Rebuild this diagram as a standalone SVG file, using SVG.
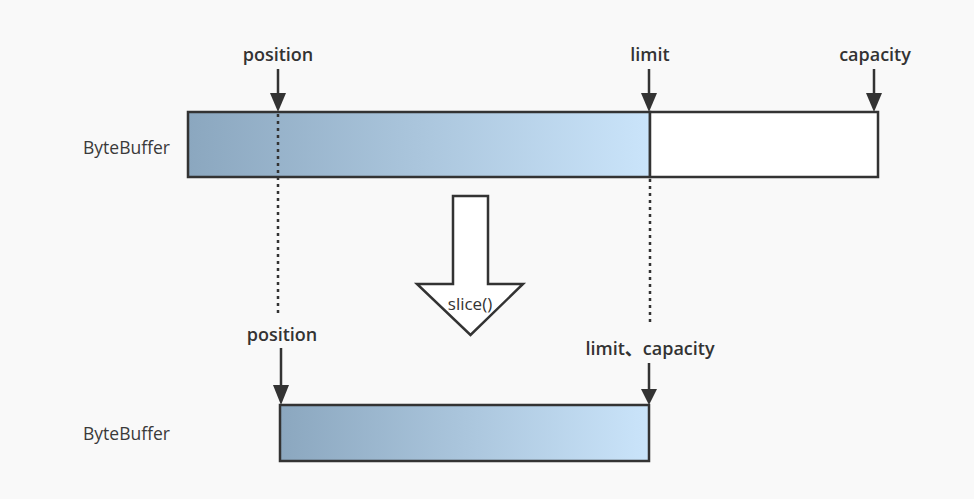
<svg xmlns="http://www.w3.org/2000/svg" width="974" height="499" viewBox="0 0 974 499">
<defs>
<linearGradient id="g" x1="0" y1="0" x2="1" y2="0">
<stop offset="0" stop-color="#8ba7bf"/>
<stop offset="1" stop-color="#cae4fa"/>
</linearGradient>
<style>
text{font-family:"Open Sans","Noto Sans CJK SC",sans-serif;fill:#333}
.lbl{font-size:18px;text-anchor:middle;font-weight:600;fill:#333}
.bb{font-size:17.5px;fill:#3a3a3a}
.box{stroke:#333;stroke-width:2.5}
.ptr{stroke:#333;stroke-width:2.5;fill:none}
.dot{stroke:#333;stroke-width:2.5;stroke-dasharray:3,4;fill:none}
</style>
</defs>
<rect width="974" height="499" fill="#f9f9f9"/>
<g id="buffer1">
<rect class="box" x="188" y="112" width="462" height="65" fill="url(#g)"/>
<rect class="box" x="650" y="112" width="228" height="65" fill="#fff"/>
<text class="bb" x="83" y="154">ByteBuffer</text>
</g>
<g id="buffer2">
<rect class="box" x="280" y="405" width="369" height="56" fill="url(#g)"/>
<text class="bb" x="83" y="440">ByteBuffer</text>
</g>
<g id="slice">
<path d="M453,196 L488,196 L488,284 L523,284 L470.5,335 L417,284 L453,284 Z" fill="#fff" stroke="#333" stroke-width="2.5"/>
<text x="470" y="310" style="font-size:17px;text-anchor:middle">slice()</text>
</g>
<g id="labels">
<text class="lbl" x="278" y="61">position</text>
<text class="lbl" x="650" y="61">limit</text>
<text class="lbl" x="875" y="61">capacity</text>
<text class="lbl" x="282" y="341">position</text>
<text class="lbl" x="650" y="355">limit、capacity</text>
</g>
<g id="connectors">
<line class="ptr" x1="278" y1="69" x2="278" y2="93"/>
<path d="M270,93 L286,93 L278,112 Z" fill="#333"/>
<line class="ptr" x1="649" y1="69" x2="649" y2="93"/>
<path d="M641,93 L657,93 L649,112 Z" fill="#333"/>
<line class="ptr" x1="874" y1="69" x2="874" y2="93"/>
<path d="M866,93 L882,93 L874,112 Z" fill="#333"/>
<line class="ptr" x1="281" y1="348" x2="281" y2="385"/>
<path d="M273,385 L289,385 L281,405 Z" fill="#333"/>
<line class="ptr" x1="649" y1="363" x2="649" y2="389"/>
<path d="M641,389 L657,389 L649,405 Z" fill="#333"/>
<line class="dot" x1="278" y1="114" x2="278" y2="316"/>
<line class="dot" x1="650" y1="179" x2="650" y2="326"/>
</g>
</svg>
